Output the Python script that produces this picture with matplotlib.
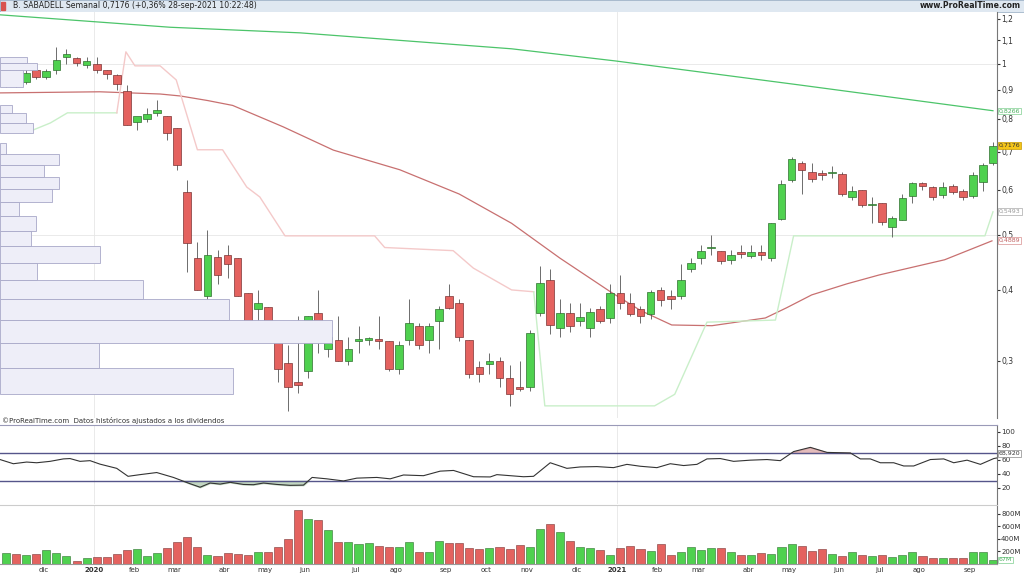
import datetime as dt
import numpy as np
import matplotlib
matplotlib.use("Agg")
import matplotlib.pyplot as plt
from matplotlib.patches import Rectangle
from matplotlib.ticker import FixedLocator, NullLocator

# ---- weekly OHLC (B. Sabadell), last candle = week of 27-sep-2021 ----
opens = [.94, .97, .93, .975, .95, .975, 1.03, 1.025, .995, 1.0, .975, .955, .895, .79, .80, .82, .81, .77, .595, .456,
         .39, .458, .46, .456, .395, .37, .373, .335, .297, .275, .288, .365, .315, .327, .30, .325, .327, .328, .325, .29,
         .327, .345, .326, .352, .39, .38, .327, .293, .296, .30, .28, .27, .27, .364, .416, .343, .365, .353, .343, .37,
         .357, .395, .38, .37, .363, .40, .39, .39, .435, .455, .474, .468, .452, .466, .459, .467, .456, .533, .625, .67,
         .645, .64, .642, .64, .582, .60, .564, .57, .517, .53, .585, .618, .608, .588, .61, .598, .585, .62, .67]
closes = [.98, .93, .965, .95, .97, 1.015, 1.04, 1.005, 1.01, .975, .96, .92, .78, .81, .815, .83, .757, .665, .484, .40,
          .46, .425, .444, .39, .35, .38, .33, .29, .27, .272, .36, .326, .33, .30, .315, .328, .329, .325, .29, .32,
          .35, .32, .345, .37, .372, .33, .285, .285, .30, .28, .262, .268, .336, .412, .347, .365, .345, .358, .366, .352,
          .395, .38, .363, .36, .397, .384, .385, .416, .447, .468, .476, .45, .46, .462, .467, .46, .525, .615, .68, .65,
          .627, .638, .643, .59, .598, .565, .567, .527, .535, .58, .617, .61, .583, .607, .595, .582, .637, .664, .716]
highs = [1.0, 1.0, .98, .99, .98, 1.07, 1.06, 1.03, 1.03, 1.03, .975, .96, .917, .80, .835, .865, .81, .77, .625, .486,
         .51, .47, .48, .456, .395, .40, .373, .335, .32, .36, .36, .40, .345, .36, .33, .345, .33, .36, .325, .325,
         .385, .35, .35, .375, .41, .385, .327, .30, .31, .305, .295, .30, .34, .44, .435, .385, .38, .38, .372, .375,
         .41, .425, .395, .375, .40, .405, .40, .445, .455, .48, .50, .468, .47, .48, .48, .48, .525, .625, .685, .675,
         .67, .65, .66, .645, .61, .60, .582, .57, .54, .59, .62, .62, .61, .62, .615, .602, .645, .67, .728]
lows = [.91, .91, .92, .94, .94, .96, 1.0, .99, .985, .965, .94, .90, .78, .765, .79, .81, .735, .65, .43, .40,
        .365, .41, .42, .39, .34, .33, .33, .275, .245, .263, .28, .31, .305, .30, .295, .31, .32, .315, .288, .285,
        .32, .315, .31, .315, .37, .325, .28, .275, .285, .27, .25, .265, .265, .36, .335, .33, .337, .345, .33, .35,
        .35, .37, .36, .35, .355, .375, .37, .385, .43, .445, .46, .445, .445, .455, .455, .452, .45, .53, .62, .59,
        .62, .625, .63, .585, .575, .56, .525, .52, .495, .53, .57, .60, .575, .58, .59, .577, .58, .598, .665]
volume_m = [175, 164, 148, 159, 227, 175, 127, 53, 95, 116, 111, 164, 227, 243, 127, 169, 254, 354, 423, 270,
            143, 132, 180, 159, 138, 196, 196, 275, 402, 852, 714, 698, 540, 354, 354, 317, 333, 286, 270, 270,
            354, 196, 196, 365, 339, 328, 259, 233, 249, 275, 238, 302, 270, 555, 640, 503, 365, 270, 249, 227,
            143, 259, 286, 243, 212, 312, 148, 185, 270, 227, 259, 259, 196, 143, 143, 169, 164, 270, 317, 286,
            206, 238, 159, 127, 196, 138, 127, 138, 116, 148, 191, 127, 95, 95, 95, 90, 185, 196, 67]
last_week = dt.date(2021, 9, 27)

# ---- overlay lines: (week index, price) ----
ma_long = [(-0.6, 1.22), (16.3, 1.16), (29.2, 1.134), (50.2, 1.063), (60.5, 1.012), (78.8, .918), (98, .827)]
ma_mid = [(-0.6, .889), (9.3, .893), (15.3, .885), (17.3, .878), (20.0, .862), (22.5, .845), (27.5, .775),
          (32.5, .705), (39.1, .651), (45.0, .59), (50.2, .524), (55.0, .455), (60.2, .395), (63.0, .368),
          (66.1, .347), (70.1, .346), (75.4, .357), (77.5, .372), (80.0, .392), (83.5, .41), (86.7, .425),
          (93.2, .452), (97.9, .488)]
stop_up1 = [(1.9, .765), (2.7, .765), (4.4, .787), (6.1, .82), (11.0, .82)]
stop_dn = [(11.0, .82), (11.9, 1.05), (12.8, .992), (15.3, .992), (16.9, .937), (19.0, .706), (21.5, .706),
           (23.9, .607), (25.2, .583), (27.7, .498), (36.6, .498), (37.6, .475), (44.4, .469), (46.4, .437),
           (50.2, .40), (52.4, .397)]
stop_up2 = [(52.4, .397), (53.5, .25), (64.4, .25), (66.4, .262), (69.6, .351), (76.4, .354), (78.2, .498),
            (97.2, .498), (98, .549)]

# ---- volume profile on the left: price bin (low, high) and relative volume ----
prof_lo = [1.003, .976, .91, .82, .787, .755, .694, .663, .632, .602, .571, .54, .508, .478, .446, .416, .386, .354, .323, .292, .262]
prof_hi = [1.03, 1.003, .976, .847, .82, .787, .725, .694, .663, .632, .602, .571, .54, .508, .478, .446, .416, .386, .354, .323, .292]
prof_vol = [27, 37, 23, 12, 26, 33, 6, 59, 44, 59, 52, 19, 36, 31, 100, 37, 143, 229, 332, 99, 233]

# ---- weekly RSI ----
rsi_zx = [0, 20, 40, 55, 75, 95, 105, 120, 135, 150, 175, 192, 210, 235, 260, 285, 300, 315, 330, 345, 365, 380, 395,
          415, 435, 455, 468, 490, 515, 535, 565, 585, 605, 635, 660, 680, 710, 735, 745, 765, 785, 800, 825, 850, 870,
          895, 920, 940, 960, 985, 1005, 1025, 1045, 1060, 1080, 1100, 1125, 1150, 1170, 1190, 1215, 1240, 1275, 1290,
          1305, 1320, 1340, 1355, 1370, 1395, 1415, 1430, 1450, 1470, 1490, 1520, 1530]
rsi_val = [60.6, 54.6, 57, 56, 58, 61.5, 62, 58, 59, 54, 48, 36.6, 39, 42, 35, 26, 21, 27, 25.5, 28, 25, 24.6, 27,
           25, 23.7, 24, 35, 33, 30, 34, 35, 33, 38.5, 37.5, 44, 45, 36, 35.7, 39, 37.5, 36, 36.6, 56, 48, 50,
           50.5, 49, 53.7, 51, 49, 54.6, 52, 53.7, 61.5, 62, 58, 59.7, 60.6, 59, 72, 78, 70.8, 70, 61.5,
           61.5, 56, 56, 51.4, 51.4, 60.6, 61.5, 56, 59.7, 53.7, 62, 67.5, 68.92]

n = len(opens)
x = np.arange(n)
dates = [last_week - dt.timedelta(weeks=n - 1 - i) for i in range(n)]
up = np.array(closes) >= np.array(opens)
GREEN, RED = "#4fd14f", "#e4625f"
GEDGE, REDGE = "#2f6f2f", "#7a3434"
XL = (-0.6, 98.4)

W, H = 1024, 576
fig = plt.figure(figsize=(W / 100, H / 100), dpi=100)
fig.patch.set_facecolor("white")
def box(l, t, r, b):
    return [l / W, 1 - b / H, (r - l) / W, (b - t) / H]

# header strip
hd = fig.add_axes(box(0, 0, 1024, 12))
hd.set_facecolor("#dfe8f1"); hd.set_xticks([]); hd.set_yticks([])
for s in hd.spines.values(): s.set_color("#9fb3c8"); s.set_linewidth(0.6)
hd.text(0.013, 0.5, "B. SABADELL Semanal 0,7176 (+0,36% 28-sep-2021 10:22:48)", fontsize=5.6, va="center",
        color="#222222", transform=hd.transAxes)
hd.text(0.997, 0.5, "www.ProRealTime.com", fontsize=5.6, va="center", ha="right", color="#222222",
        transform=hd.transAxes, fontweight="bold")
hd.add_patch(Rectangle((0.001, 0.15), 0.004, 0.7, color="#d9534f", transform=hd.transAxes))

# month ticks from the dates
tick_pos, tick_lab, year_pos = [], [], []
mnames = ["ene", "feb", "mar", "abr", "may", "jun", "jul", "ago", "sep", "oct", "nov", "dic"]
for i in range(1, n):
    if dates[i].month != dates[i - 1].month:
        tick_pos.append(i + 0.7)
        if dates[i].month == 1:
            tick_lab.append(str(dates[i].year)); year_pos.append(i + 0.7)
        else:
            tick_lab.append(mnames[dates[i].month - 1])

# ---- price panel ----
ax = fig.add_axes(box(0, 12, 997, 418))
ax.set_yscale("log")
ax.set_ylim(0.238, 1.234); ax.set_xlim(*XL)
for yv in (1.0, 0.5):
    ax.axhline(yv, color="#e6e6e6", lw=0.6, zorder=0)
for xp in year_pos:
    ax.axvline(xp, color="#e6e6e6", lw=0.6, zorder=0)

prof = ax.twiny()
prof.set_xlim(0, 997)
for lo, hi, v in zip(prof_lo, prof_hi, prof_vol):
    prof.add_patch(Rectangle((0, lo), v, hi - lo, facecolor="#eeeef8", edgecolor="#a8a8c8", lw=0.6, zorder=1))
prof.set_xticks([]); prof.axis("off")

def line(pts, **kw):
    ax.plot([p[0] for p in pts], [p[1] for p in pts], **kw)

line(ma_long, color="#4cc46a", lw=0.9, zorder=3)
line(ma_mid, color="#c87070", lw=0.9, zorder=3)
line(stop_up1, color="#c9efc9", lw=1.0, zorder=3)
line(stop_dn, color="#f4c9c9", lw=1.0, zorder=3)
line(stop_up2, color="#c9efc9", lw=1.0, zorder=3)

for i in range(n):
    ax.vlines(x[i], lows[i], highs[i], color="#555555", lw=0.6, zorder=4)
    lo, hi = min(opens[i], closes[i]), max(opens[i], closes[i])
    if hi / lo < 1.006:
        hi = lo * 1.006
    ax.add_patch(Rectangle((x[i] - 0.38, lo), 0.76, hi - lo, facecolor=GREEN if up[i] else RED,
                           edgecolor=GEDGE if up[i] else REDGE, lw=0.5, zorder=5))

ax.yaxis.tick_right()
ax.yaxis.set_major_locator(FixedLocator([0.3, 0.4, 0.5, 0.6, 0.7, 0.8, 0.9, 1.0, 1.1, 1.2]))
ax.yaxis.set_minor_locator(NullLocator())
ax.set_yticklabels(["0,3", "0,4", "0,5", "0,6", "0,7", "0,8", "0,9", "1", "1,1", "1,2"])
ax.tick_params(axis="y", labelsize=5.5, length=2, pad=1, colors="#333333")
ax.set_xticks([])
for s in ("top", "left", "bottom"): ax.spines[s].set_visible(False)
ax.spines["right"].set_color("#777777")

def tag(a, yv, txt, fc, ec, tc):
    a.annotate(txt, xy=(1.0, yv), xycoords=("axes fraction", "data"), xytext=(1.5, 0), textcoords="offset points",
               fontsize=4.5, va="center", color=tc, annotation_clip=False, zorder=10,
               bbox=dict(boxstyle="square,pad=0.12", fc=fc, ec=ec, lw=0.5))
tag(ax, 0.8266, "0,8266", "white", "#7fcf8f", "#4cb060")
tag(ax, 0.7176, "0,7176", "#f5c518", "#c89a00", "#333333")
tag(ax, 0.5493, "0,5493", "white", "#aaaaaa", "#999999")
tag(ax, 0.4889, "0,4889", "white", "#d89090", "#c06060")
fig.text(2 / W, 1 - 421 / H, "©ProRealTime.com  Datos históricos ajustados a los dividendos", fontsize=5,
         va="center", color="#333333")

# ---- RSI panel ----
ra = fig.add_axes(box(0, 425, 997, 504))
ra.set_xlim(*XL); ra.set_ylim(-3, 110)
rx = np.array(rsi_zx) / 15.1 - 0.6
rv = np.array(rsi_val)
ra.plot(rx, rv, color="#333333", lw=0.8, zorder=3)
ra.fill_between(rx, rv, 30, where=rv < 30, interpolate=True, color="#a9c7a9", alpha=0.7)
ra.fill_between(rx, rv, 70, where=rv > 70, interpolate=True, color="#d9a0a0", alpha=0.7)
ra.axhline(70, color="#55558a", lw=1.0); ra.axhline(30, color="#55558a", lw=1.0)
for xp in year_pos:
    ra.axvline(xp, color="#e6e6e6", lw=0.6, zorder=0)
ra.yaxis.tick_right(); ra.set_yticks([20, 40, 60, 80, 100]); ra.set_xticks([])
ra.tick_params(axis="y", labelsize=5.2, length=2, pad=1, colors="#333333")
for s in ("left", "bottom"): ra.spines[s].set_visible(False)
ra.spines["top"].set_color("#9a9ab8"); ra.spines["right"].set_color("#777777")
tag(ra, 68.92, "68,920", "white", "#888888", "#333333")

# ---- volume panel ----
va = fig.add_axes(box(0, 505, 997, 564))
va.set_xlim(*XL); va.set_ylim(0, 936)
va.bar(x, volume_m, width=0.8, color=[GREEN if u else RED for u in up],
       edgecolor=[GEDGE if u else REDGE for u in up], lw=0.4)
for xp in year_pos:
    va.axvline(xp, color="#e6e6e6", lw=0.6, zorder=0)
va.yaxis.tick_right(); va.set_yticks([200, 400, 600, 800])
va.set_yticklabels(["200M", "400M", "600M", "800M"])
va.tick_params(axis="y", labelsize=5, length=2, pad=1, colors="#333333")
va.set_xticks(tick_pos); va.set_xticklabels(tick_lab)
va.tick_params(axis="x", labelsize=5, length=0, pad=2, colors="#333333")
for lab in va.get_xticklabels():
    if lab.get_text().isdigit(): lab.set_fontweight("bold")
va.spines["left"].set_visible(False)
va.spines["top"].set_color("#cccccc")
va.spines["right"].set_color("#777777"); va.spines["bottom"].set_color("#999999")
tag(va, 67, "67M", "white", "#7fcf8f", "#4cb060")

fig.savefig("out.png", dpi=100, facecolor="white")
